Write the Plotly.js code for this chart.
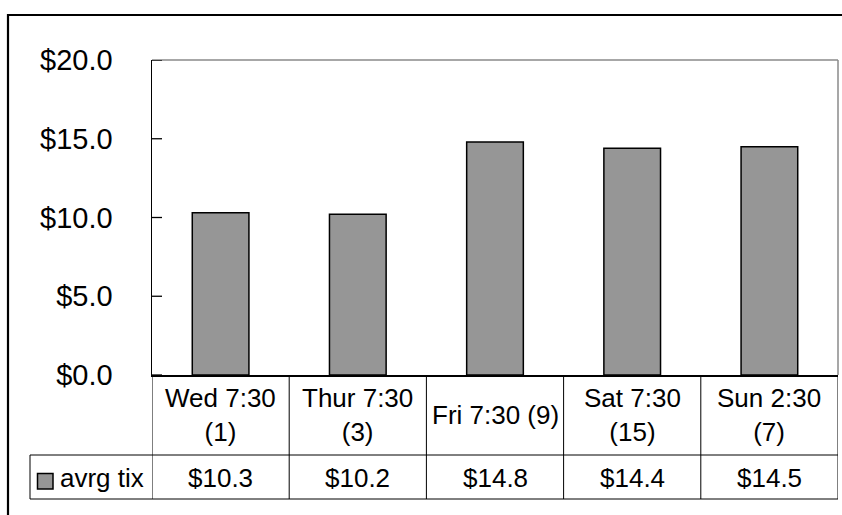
<!DOCTYPE html>
<html>
<head>
<meta charset="utf-8">
<script src="https://cdn.plot.ly/plotly-3.0.1.min.js"></script>
<style>
  html, body { margin: 0; padding: 0; background: #fff; }
  #chart { width: 842px; height: 515px; }
</style>
</head>
<body>
<div id="chart"></div>
<script>
// ---- data ----
const categories = ["Wed 7:30<br>(1)", "Thur 7:30<br>(3)", "Fri 7:30 (9)", "Sat 7:30<br>(15)", "Sun 2:30<br>(7)"];
const values = [10.3, 10.2, 14.8, 14.4, 14.5];
const seriesName = "avrg tix";
const yTickValues = [0, 5, 10, 15, 20];

// ---- geometry (pixels) ----
const W = 842, H = 515;
const L = 152, R = 838, T = 60, B = 375;
const px = x => (x - L) / (R - L);
const py = y => (B - y) / (B - T);

const FONT = "Liberation Sans, Arial, sans-serif";
const BAR_FILL = "#969696";
const TABLE_FONT = 26;

const xIdx = categories.map((_, i) => i);

const trace = {
  type: "bar",
  x: xIdx,
  y: values,
  name: seriesName,
  marker: { color: BAR_FILL, line: { color: "#000", width: 1.5 } },
  hoverinfo: "skip"
};

const shapes = [];
// plot area top and right border (gray)
shapes.push({ type: "line", xref: "paper", yref: "paper", x0: 0, x1: 1, y0: 1, y1: 1, line: { color: "#8a8a8a", width: 1.5 }, layer: "below" });
shapes.push({ type: "line", xref: "paper", yref: "paper", x0: 1, x1: 1, y0: 0, y1: 1, line: { color: "#8a8a8a", width: 1.5 }, layer: "below" });

// y-axis inside tick marks (black)
yTickValues.forEach(v => {
  shapes.push({ type: "line", xref: "paper", yref: "y", x0: 0, x1: px(L + 10), y0: v, y1: v, line: { color: "#000", width: 1.3 } });
});

// data table lines
const rowMid = 455, rowBot = 499, tableLeft = 30;
for (let i = 0; i <= categories.length; i++) {
  shapes.push({ type: "line", xref: "x", yref: "paper", x0: i - 0.5, x1: i - 0.5, y0: py(B), y1: py(rowBot), line: { color: "#000", width: 1 } });
}
shapes.push({ type: "line", xref: "paper", yref: "paper", x0: px(tableLeft), x1: px(tableLeft), y0: py(rowMid), y1: py(rowBot), line: { color: "#000", width: 1 } });
shapes.push({ type: "line", xref: "paper", yref: "paper", x0: px(tableLeft), x1: 1, y0: py(rowMid), y1: py(rowMid), line: { color: "#000", width: 1 } });
shapes.push({ type: "line", xref: "paper", yref: "paper", x0: px(tableLeft), x1: 1, y0: py(rowBot), y1: py(rowBot), line: { color: "#000", width: 1 } });

// legend key square
shapes.push({ type: "rect", xref: "paper", yref: "paper", x0: px(37.5), x1: px(53), y0: py(473.5), y1: py(489), fillcolor: BAR_FILL, line: { color: "#000", width: 1.5 } });

// outer chart border (top and left)
shapes.push({ type: "line", xref: "paper", yref: "paper", x0: px(8), x1: px(850), y0: py(15), y1: py(15), line: { color: "#000", width: 2.2 } });
shapes.push({ type: "line", xref: "paper", yref: "paper", x0: px(8), x1: px(8), y0: py(14), y1: py(520), line: { color: "#000", width: 2.2 } });

const annotations = [];
categories.forEach((c, i) => {
  annotations.push({ xref: "x", yref: "paper", x: i, y: py(414.5), text: c, showarrow: false, xanchor: "center", yanchor: "middle", font: { family: FONT, size: TABLE_FONT, color: "#000" } });
  annotations.push({ xref: "x", yref: "paper", x: i, y: py(478), text: "$" + values[i].toFixed(1), showarrow: false, xanchor: "center", yanchor: "middle", font: { family: FONT, size: TABLE_FONT, color: "#000" } });
});
annotations.push({ xref: "paper", yref: "paper", x: px(58), y: py(478), text: seriesName, showarrow: false, xanchor: "left", yanchor: "middle", font: { family: FONT, size: TABLE_FONT, color: "#000" } });

const layout = {
  width: W, height: H,
  margin: { l: L, r: W - R, t: T, b: H - B, pad: 0 },
  paper_bgcolor: "#fff",
  plot_bgcolor: "#fff",
  showlegend: false,
  bargap: 0.587,
  font: { family: FONT, color: "#000" },
  xaxis: {
    type: "linear",
    range: [-0.5, categories.length - 0.5],
    showticklabels: false,
    showgrid: false,
    zeroline: false,
    showline: true,
    linecolor: "#000",
    linewidth: 1.5,
    ticks: "",
    fixedrange: true
  },
  yaxis: {
    range: [0, 20],
    tickvals: yTickValues,
    ticktext: yTickValues.map(v => "$" + v.toFixed(1)),
    ticks: "",
    showline: true,
    linecolor: "#000",
    linewidth: 1.5,
    showgrid: false,
    zeroline: false,
    ticklabelstandoff: 32,
    tickfont: { family: FONT, size: 29, color: "#000" },
    fixedrange: true
  },
  shapes: shapes,
  annotations: annotations
};

Plotly.newPlot("chart", [trace], layout, { displayModeBar: false, staticPlot: true });
</script>
</body>
</html>
